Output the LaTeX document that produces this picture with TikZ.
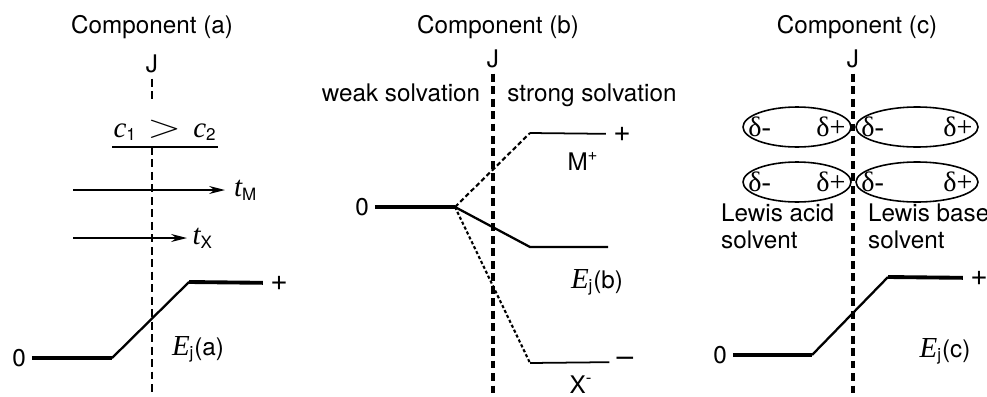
\documentclass[tikz,border=0pt]{standalone}
\usepackage{fontspec}
\usepackage{graphicx}
\setmainfont{TeX Gyre Heros}
\newfontfamily\tnr{Liberation Serif}
\usetikzlibrary{positioning,arrows.meta,shapes.geometric}

\newcommand{\ivar}[1]{{\tnr\itshape\fontsize{16.5}{16.5}\selectfont #1}}
\newcommand{\Ej}[1]{\ivar{E}\textsubscript{j}(#1)}
\newcommand{\dlt}[1]{{\tnr\fontsize{16}{16}\selectfont δ#1}}

\tikzset{
  jline/.style={line width=1.9pt,dash pattern=on 4.5pt off 2.6pt},
  lvl/.style={line width=2.2pt},
  slope/.style={line width=1.3pt},
  arr/.style={line width=0.9pt,-{Stealth[length=9pt,width=4.5pt]}},
  mol/.style={draw,ellipse,line width=0.9pt,minimum width=2.16cm,minimum height=0.8cm,inner sep=0pt},
  sgn/.style={inner sep=4pt,font=\fontsize{17}{17}\selectfont},
}

\begin{document}
\begin{tikzpicture}[x=0.02cm,y=-0.02cm,every node/.style={font=\fontsize{13.8}{15.3}\selectfont}]
  \useasboundingbox (0,0) rectangle (987,396);

  % component (a)
  \node[anchor=base] (ta) at (152,33) {Component (a)};
  \node[anchor=base] (ja) at (152,72) {J};
  \coordinate (jat) at (152,99);\coordinate (jam) at (152,147);\coordinate (jae) at (152,396);
  \draw[jline,line width=1.6pt] (ja) -- (jat);
  \draw[jline,line width=1.6pt] (jam) -- (jae);
  \node[anchor=base] (cc) at (165,137) {\ivar{c}\textsubscript{1}\hspace{6pt}\scalebox{1.75}[1.3]{$>$}\hspace{7pt}\ivar{c}\textsubscript{2}};
  \coordinate (ul1) at (112,147);\coordinate (ul2) at (218,147);
  \draw[line width=0.8pt] (ul1) -- (ul2);
  \coordinate (tm0) at (73,190);\coordinate (tx0) at (73,238);
  \node[anchor=west,inner xsep=5pt] (tm) at (225,190) {\ivar{t}\textsubscript{M}};
  \node[anchor=west,inner xsep=3pt] (tx) at (187,238) {\ivar{t}\textsubscript{X}};
  \draw[arr] (tm0) -- (tm.west);
  \draw[arr] (tx0) -- (tx.west);
  \node (za) at (19,358) {0};
  \coordinate (a1) at (112,358);\coordinate (a2) at (189,282);
  \node[sgn] (pa) at (279,283) {+};
  \draw[lvl] (za) -- (a1);
  \draw[slope] (a1) -- (a2);
  \draw[lvl] (a2) -- (pa);
  \node[anchor=base] (eja) at (198,355) {\Ej{a}};

  % component (b)
  \node[anchor=base] (tb) at (498,33) {Component (b)};
  \node[anchor=base] (jb) at (493,67) {J};
  \coordinate (jbe) at (493,396);
  \draw[jline] (jb) -- (jbe);
  \node[anchor=base] (weak) at (401,101) {weak solvation};
  \node[anchor=base] (strong) at (592,101) {strong solvation};
  \node (zb) at (362,207) {0};
  \coordinate (b1) at (455,207);
  \coordinate (bm) at (530,133);\coordinate (be) at (530,247);\coordinate (bx) at (530,363);
  \coordinate (bee) at (608,247);
  \node[sgn] (pb) at (622,134) {+};
  \node[sgn] (mb) at (625,362) {--};
  \draw[lvl] (zb) -- (b1);
  \draw[line width=1.2pt,dash pattern=on 2.6pt off 1.6pt] (b1) -- (bm);
  \draw[line width=1pt] (bm) -- (pb);
  \draw[slope] (b1) -- (be) -- (bee);
  \draw[line width=1.2pt,dash pattern=on 1.8pt off 1.3pt] (b1) -- (bx);
  \draw[line width=1pt] (bx) -- (mb);
  \node[anchor=base] (mplus) at (583,170) {M\textsuperscript{+}};
  \node[anchor=base] (ejb) at (597,288) {\Ej{b}};
  \node[anchor=base] (xminus) at (581,393) {X\textsuperscript{-}};

  % component (c)
  \node[anchor=base] (tc) at (857,33) {Component (c)};
  \node[anchor=base] (jc) at (853,67) {J};
  \coordinate (jce) at (853,396);
  \draw[jline] (jc) -- (jce);
  \node[mol] (e1) at (797,127) {};
  \node[mol,minimum width=2.44cm] (e2) at (917,127) {};
  \node[mol] (e3) at (797,182) {};
  \node[mol,minimum width=2.44cm] (e4) at (917,182) {};
  \foreach \e in {e1,e2,e3,e4}{
    \node[anchor=west] (\e m) at (\e.west) {\dlt{-}};
    \node[anchor=east] (\e p) at (\e.east) {\dlt{+}};
  }
  \node[anchor=base west,align=left] (acid) at (715,248) {Lewis acid\\solvent};
  \node[anchor=base west,align=left] (base) at (862,248) {Lewis base\\solvent};
  \node (zc) at (720,355) {0};
  \coordinate (c1) at (812,355);\coordinate (c2) at (888,277);
  \node[sgn] (pc) at (979,278) {+};
  \draw[lvl] (zc) -- (c1);
  \draw[slope] (c1) -- (c2);
  \draw[lvl] (c2) -- (pc);
  \node[anchor=base] (ejc) at (945,357) {\Ej{c}};
\end{tikzpicture}
\end{document}
